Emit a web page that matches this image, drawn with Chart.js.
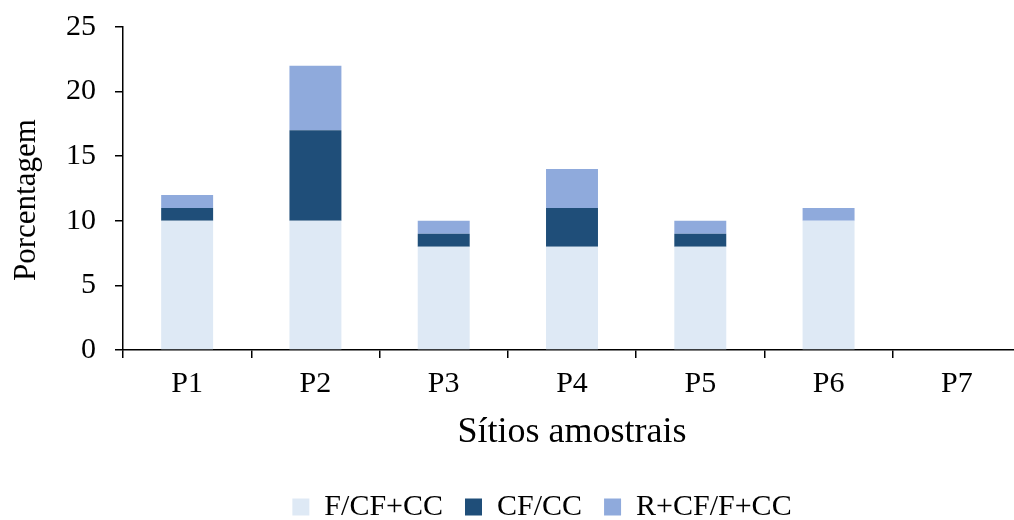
<!DOCTYPE html>
<html>
<head>
<meta charset="utf-8">
<script src="https://cdn.jsdelivr.net/npm/chart.js@4"></script>
<style>
  html, body { margin: 0; padding: 0; background: #fff; }
  #wrap { width: 1014px; height: 520px; }
</style>
</head>
<body>
<div id="wrap"><canvas id="chart" width="1014" height="520"></canvas></div>
<script>
// categories and stacked series (percentages)
const sitios = ["P1", "P2", "P3", "P4", "P5", "P6", "P7"];
const fcfcc = [10, 10, 8, 8, 8, 10, 0];
const cfcc = [1, 7, 1, 3, 1, 0, 0];
const rcffcc = [1, 5, 1, 3, 1, 1, 0];
const yTicks = [0, 5, 10, 15, 20, 25];

const serif = "'Liberation Serif'";

// in the picture the x axis runs a little past the right edge,
// and the legend sits right of centre and lower down
const layoutTweaks = {
  id: "layoutTweaks",
  afterLayout: (chart) => {
    const x = chart.scales.x;
    x.right += 7;
    x.width += 7;
    x.configure();
    chart.chartArea.right += 7;
    chart.chartArea.width += 7;

    chart.legend.left += 33;
    chart.legend.right += 33;
    chart.legend.top += 12;
    chart.legend.bottom += 12;
  },
};

const draw = () => {
  const ctx = document.getElementById("chart").getContext("2d");
  const myChart = new Chart(ctx, {
    type: "bar",
    data: {
      labels: sitios,
      datasets: [
        { label: "F/CF+CC", data: fcfcc, backgroundColor: "#DEE9F5" },
        { label: "CF/CC", data: cfcc, backgroundColor: "#1F4E79" },
        { label: "R+CF/F+CC", data: rcffcc, backgroundColor: "#8FAADC" },
      ],
    },
    plugins: [layoutTweaks],
    options: {
      responsive: false,
      animation: false,
      layout: { padding: { left: 4, right: 0, top: 27, bottom: 0 } },
      datasets: { bar: { barPercentage: 0.405, categoryPercentage: 1.0 } },
      plugins: {
        legend: {
          position: "bottom",
          labels: {
            font: { family: serif, size: 30 },
            color: "#000",
            boxWidth: 17,
            boxHeight: 17,
            padding: 22,
          },
        },
        tooltip: { enabled: false },
      },
      scales: {
        x: {
          stacked: true,
          grid: { display: true, drawOnChartArea: false, drawTicks: true, tickLength: 8, color: "#000", lineWidth: 1.5 },
          border: { color: "#000", width: 1.5 },
          ticks: { font: { family: serif, size: 30 }, color: "#000", padding: 8 },
          title: { display: true, text: "Sítios amostrais", font: { family: serif, size: 36 }, color: "#000", padding: { top: 0 } },
          afterFit: (scale) => {
            scale.height = 108;
            scale.paddingLeft = 0;
            scale.paddingRight = 0;
          },
        },
        y: {
          stacked: true,
          min: 0,
          max: 25,
          afterBuildTicks: (scale) => { scale.ticks = yTicks.map((v) => ({ value: v })); },
          grid: { display: true, drawOnChartArea: false, drawTicks: true, tickLength: 8, color: "#000", lineWidth: 1.5 },
          border: { color: "#000", width: 1.5 },
          ticks: { font: { family: serif, size: 30 }, color: "#000", padding: 19 },
          title: { display: true, text: "Porcentagem\u00A0\u00A0\u00A0", font: { family: serif, size: 31 }, color: "#000", padding: { bottom: 0 } },
          afterFit: (scale) => {
            scale.width = 119;
            scale.paddingTop = 0;
            scale.paddingBottom = 0;
          },
        },
      },
    },
  });
};

document.fonts.load("30px 'Liberation Serif'").then(draw, draw);
</script>
</body>
</html>
